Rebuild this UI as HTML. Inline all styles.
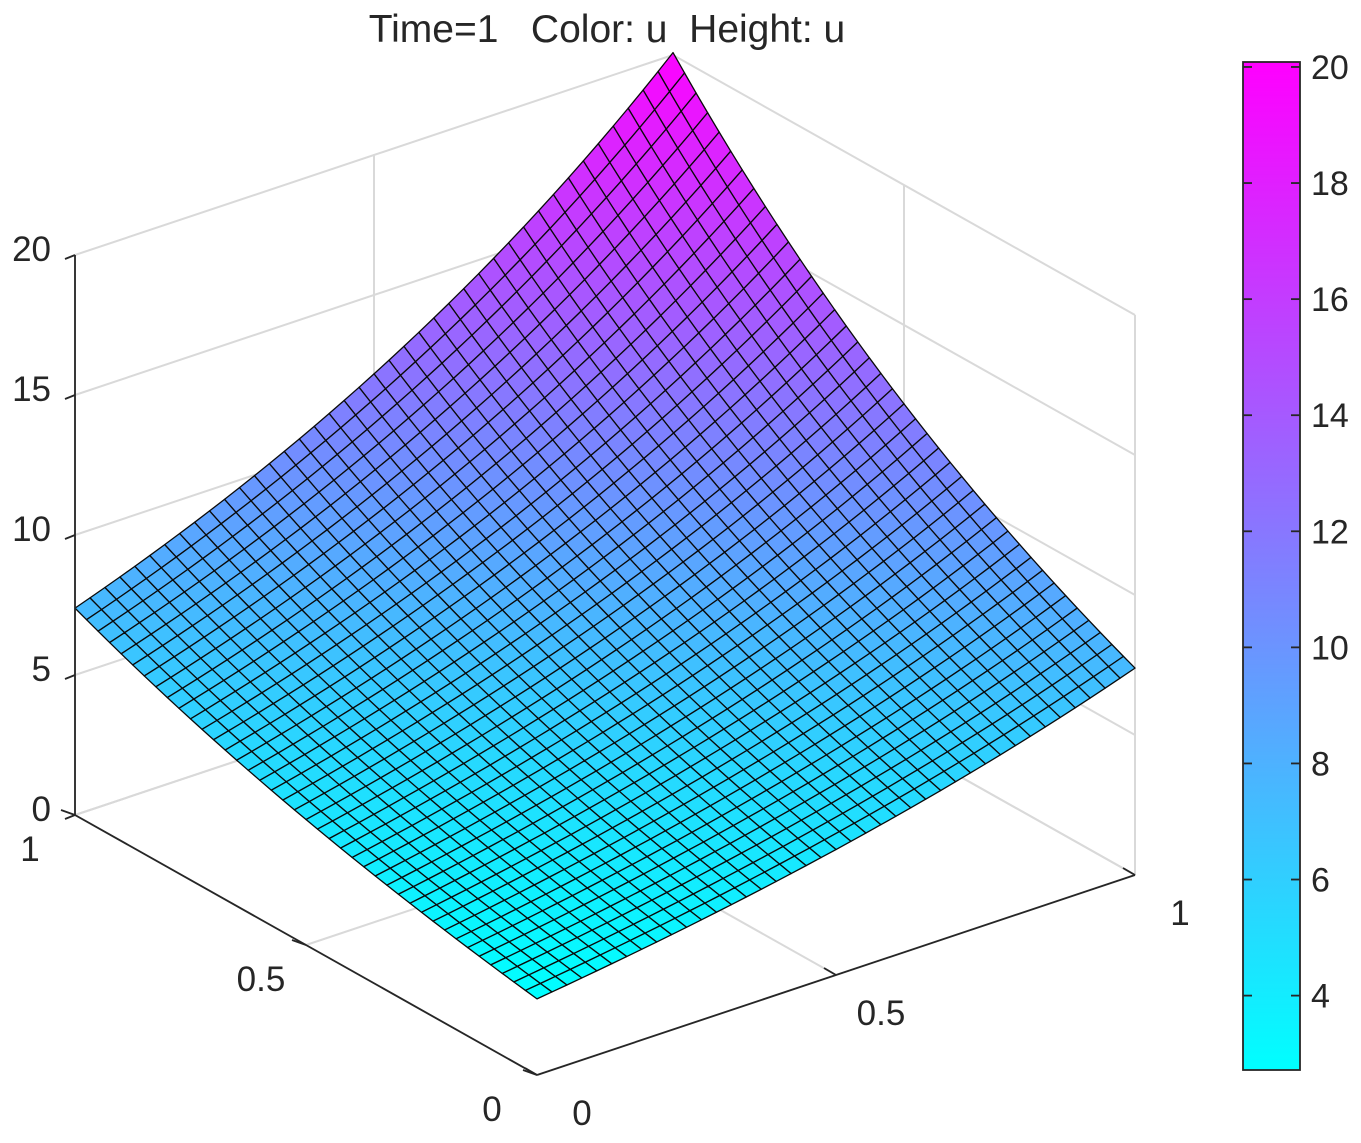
<!DOCTYPE html>
<html><head><meta charset="utf-8"><style>
body{margin:0;background:#fff;}
svg text{font-family:"Liberation Sans",sans-serif;fill:#262626;}
</style></head><body>
<svg id="chart" width="1361" height="1138" viewBox="0 0 1361 1138" xmlns="http://www.w3.org/2000/svg">
<text x="607" y="42" font-size="39" text-anchor="middle" xml:space="preserve">Time=1   Color: u  Height: u</text>
<g id="walls"></g>
<g id="surf"></g>
<g id="axes"></g>
<g id="cbar"></g>
</svg>
<script>
const timeValue = 1;
const zTicks = [0,5,10,15,20];
const xTicks = [0,0.5,1];
const yTicks = [0,0.5,1];
const cbarTicks = [4,6,8,10,12,14,16,18,20];
const nGrid = 40;
const cMin = Math.exp(timeValue), cMax = Math.exp(2+timeValue);
function u(x,y){return Math.exp(x+y+timeValue);}

const F=[537,1075], R=[1135,875], L=[75,815], ZS=28;
function P(x,y,z){return [F[0]+x*(R[0]-F[0])+y*(L[0]-F[0]), F[1]+x*(R[1]-F[1])+y*(L[1]-F[1])-z*ZS];}
const NS="http://www.w3.org/2000/svg";
function mk(tag,attrs,parent){const e=document.createElementNS(NS,tag);for(const k in attrs)e.setAttribute(k,attrs[k]);parent.appendChild(e);return e;}
function col(v){let t=(v-cMin)/(cMax-cMin);t=Math.max(0,Math.min(1,t));return `rgb(${Math.round(255*t)},${Math.round(255*(1-t))},255)`;}
const walls=document.getElementById('walls'),surf=document.getElementById('surf'),axes=document.getElementById('axes'),cb=document.getElementById('cbar');
function line(a,b,stroke,w,parent,name){const e=mk('line',{x1:a[0],y1:a[1],x2:b[0],y2:b[1],stroke:stroke,'stroke-width':w},parent);

return e;}
const gc='#d9d9d9', zmax=zTicks[zTicks.length-1];
zTicks.forEach(z=>{line(P(0,1,z),P(1,1,z),gc,2,walls,'wall-gridline');line(P(1,1,z),P(1,0,z),gc,2,walls,'wall-gridline');});
xTicks.forEach(x=>{line(P(x,1,0),P(x,1,zmax),gc,2,walls,'wall-gridline');line(P(x,0,0),P(x,1,0),gc,2,walls,'floor-gridline');});
yTicks.forEach(y=>{line(P(1,y,0),P(1,y,zmax),gc,2,walls,'wall-gridline');line(P(0,y,0),P(1,y,0),gc,2,walls,'floor-gridline');});
const quads=[];
for(let i=0;i<nGrid;i++)for(let j=0;j<nGrid;j++)quads.push([i,j]);
quads.sort((a,b)=>(b[0]+b[1])-(a[0]+a[1]));
quads.forEach(([i,j])=>{
 const x0=i/nGrid,x1=(i+1)/nGrid,y0=j/nGrid,y1=(j+1)/nGrid;
 const pts=[[x0,y0],[x1,y0],[x1,y1],[x0,y1]].map(([x,y])=>P(x,y,u(x,y)));
 const v=(u(x0,y0)+u(x1,y0)+u(x1,y1)+u(x0,y1))/4;
 const e=mk('polygon',{points:pts.map(p=>p.join(',')).join(' '),fill:col(v),stroke:'#0a0a0a','stroke-width':1.3,'stroke-linejoin':'round'},surf);
 
 
});
const ac='#262626';
line(P(0,1,0),P(0,1,zmax),ac,1.8,axes,'z-axis');
line(P(0,1,0),P(0,0,0),ac,1.8,axes,'y-axis');
line(P(0,0,0),P(1,0,0),ac,1.8,axes,'x-axis');
zTicks.forEach(z=>{const p=P(0,1,z);line(p,[p[0]-10,p[1]+4],ac,1.8,axes,'z-tick');
 const t=mk('text',{x:p[0]-24,y:p[1]+6,'font-size':35,'text-anchor':'end'},axes);t.textContent=z;
 });
yTicks.forEach(y=>{const p=P(0,y,0);line(p,[p[0]-14,p[1]-5],ac,1.8,axes,'y-tick');
 const t=mk('text',{x:p[0]-45,y:p[1]+46,'font-size':35,'text-anchor':'middle'},axes);t.textContent=y;
 });
xTicks.forEach(x=>{const p=P(x,0,0);line(p,[p[0]-12,p[1]-7],ac,1.8,axes,'x-tick');
 const t=mk('text',{x:p[0]+45,y:p[1]+50,'font-size':35,'text-anchor':'middle'},axes);t.textContent=x;
 });
const cx=1243,cw=57,cTop=62,cBot=1070;
function cy(v){return cBot-(v-cMin)/(cMax-cMin)*(cBot-cTop);}
const defs=mk('defs',{},cb);
const g=mk('linearGradient',{id:'cg',x1:0,y1:1,x2:0,y2:0},defs);
mk('stop',{offset:0,'stop-color':'rgb(0,255,255)'},g);mk('stop',{offset:1,'stop-color':'rgb(255,0,255)'},g);
const r=mk('rect',{x:cx,y:cTop,width:cw,height:cBot-cTop,fill:'url(#cg)',stroke:ac,'stroke-width':1.8},cb);

cbarTicks.forEach(v=>{const y=cy(v);line([cx+cw-9,y],[cx+cw,y],ac,1.8,cb,'colorbar-tick');line([cx,y],[cx+9,y],ac,1.8,cb,'colorbar-tick');
 const t=mk('text',{x:cx+cw+11,y:y+12,'font-size':34},cb);t.textContent=v;
 });
</script>
</body></html>
